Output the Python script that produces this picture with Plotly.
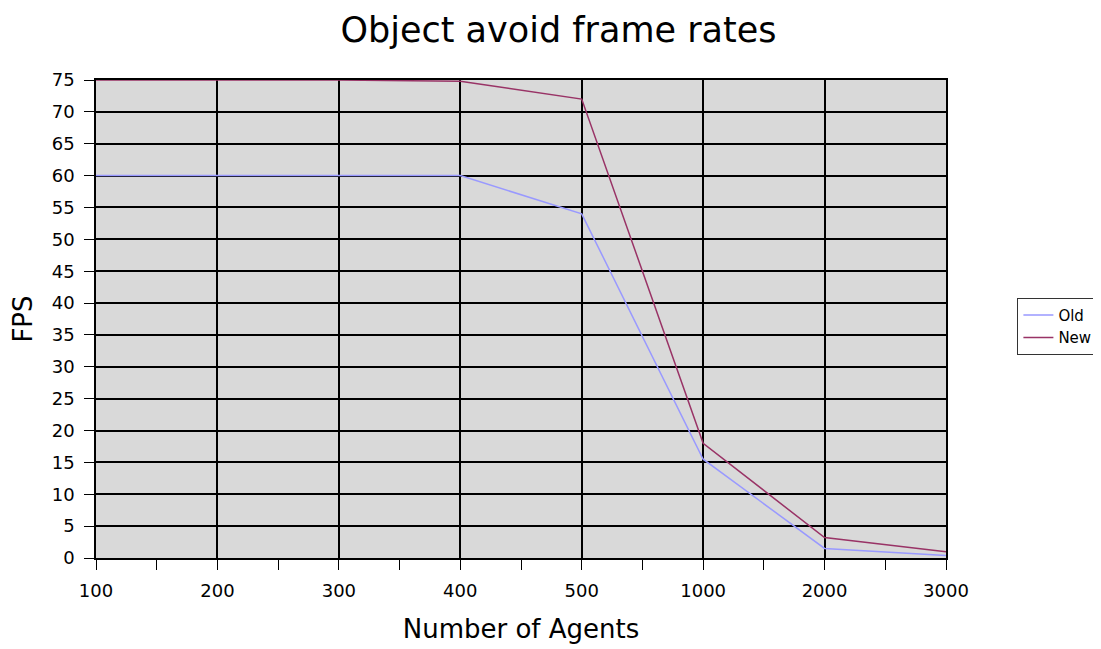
import plotly.graph_objects as go

categories = ["100", "200", "300", "400", "500", "1000", "2000", "3000"]
old_fps = [60, 60, 60, 60, 54, 15.5, 1.5, 0.4]
new_fps = [75, 75, 75, 74.8, 72, 18, 3.2, 1.0]
y_ticks = list(range(0, 80, 5))

xpos = list(range(len(categories)))
minor_pos = [i + 0.5 for i in xpos[:-1]]

FONT = "DejaVu Sans, Liberation Sans, Arial, sans-serif"

fig = go.Figure()
fig.add_trace(go.Scatter(x=xpos, y=old_fps, mode="lines", name="Old",
                         line=dict(color="#9999ff", width=1.5)))
fig.add_trace(go.Scatter(x=xpos, y=new_fps, mode="lines", name="New",
                         line=dict(color="#993366", width=1.5)))

fig.update_layout(
    width=1101, height=649,
    paper_bgcolor="white", plot_bgcolor="#d9d9d9",
    margin=dict(l=88, r=161, t=72, b=99),
    title=dict(text="Object avoid frame rates", x=0.5, xanchor="center",
               y=0.967, yanchor="middle",
               font=dict(family=FONT, size=35, color="black")),
    font=dict(family=FONT, color="black"),
    legend=dict(x=1.084, xanchor="left", y=0.485, yanchor="middle",
                bgcolor="white", bordercolor="#333333", borderwidth=1,
                font=dict(size=15, color="black"), tracegroupgap=0,
                itemwidth=30),
    showlegend=True,
)
fig.update_xaxes(
    range=[0, len(categories) - 1], tickmode="array", tickvals=xpos, ticktext=categories,
    showgrid=True, gridcolor="black", gridwidth=1.5,
    showline=True, linecolor="black", linewidth=1.5, mirror=True,
    ticks="outside", ticklen=10, tickcolor="black", tickwidth=1,
    ticklabelstandoff=6,
    tickfont=dict(size=18, color="black"),
    minor=dict(tickmode="array", tickvals=minor_pos, ticks="outside", ticklen=10,
               tickcolor="black", tickwidth=1, showgrid=False),
    title=dict(text="Number of Agents", font=dict(size=26, color="black"), standoff=19),
    zeroline=False,
)
fig.update_yaxes(
    range=[0, 75], tickmode="array", tickvals=y_ticks,
    showgrid=True, gridcolor="black", gridwidth=1.5,
    showline=True, linecolor="black", linewidth=1.5, mirror=True,
    ticks="outside", ticklen=10, tickcolor="black", tickwidth=1,
    ticklabelstandoff=6,
    tickfont=dict(size=18, color="black"),
    title=dict(text="FPS", font=dict(size=26, color="black"), standoff=12),
    zeroline=False,
)

fig.write_html("out.html")
